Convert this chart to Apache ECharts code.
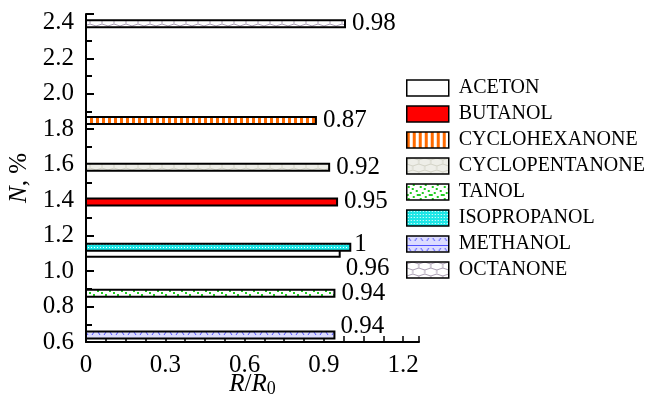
<!DOCTYPE html>
<html lang="en">
<head>
    <meta charset="UTF-8">
    <title>N vs R/R0</title>
    <script src="https://cdn.jsdelivr.net/npm/echarts@6/dist/echarts.min.js"></script>
    <style>
        html, body { margin: 0; padding: 0; background: #fff; }
    </style>
</head>
<body>
<div id="main" style="width:650px;height:406px"></div>
<script>
    // data
    const names = ['ACETON', 'BUTANOL', 'CYCLOHEXANONE', 'CYCLOPENTANONE', 'TANOL', 'ISOPROPANOL', 'METHANOL', 'OCTANONE'];
    const ratio = [0.96, 0.95, 0.87, 0.92, 0.94, 1, 0.94, 0.98];
    const level = [1.10, 1.39, 1.85, 1.585, 0.875, 1.135, 0.64, 2.395];
    const xTicks = [0, 0.3, 0.6, 0.9, 1.2];
    const yTicks = [0.6, 0.8, 1.0, 1.2, 1.4, 1.6, 1.8, 2.0, 2.2, 2.4];

    const FONT = 'Liberation Serif';

    // small canvas tiles used as fill patterns
    function tile(w, h, draw) {
        let c = document.createElement('canvas');
        c.width = w;
        c.height = h;
        draw(c.getContext('2d'));
        return {image: c, repeat: 'repeat'};
    }

    function hex(ctx, col, bg) {
        ctx.fillStyle = bg;
        ctx.fillRect(0, 0, 12, 12);
        ctx.strokeStyle = col;
        ctx.lineWidth = 1;
        ctx.beginPath();
        ctx.moveTo(0, 2); ctx.lineTo(6, 0); ctx.lineTo(12, 2);
        ctx.moveTo(0, 2); ctx.lineTo(0, 6);
        ctx.moveTo(12, 2); ctx.lineTo(12, 6);
        ctx.moveTo(0, 6); ctx.lineTo(6, 8); ctx.lineTo(12, 6);
        ctx.moveTo(6, 8); ctx.lineTo(6, 12);
        ctx.stroke();
    }

    const fills = {
        ACETON: '#ffffff',
        BUTANOL: '#ff0000',
        CYCLOHEXANONE: tile(6, 2, function (ctx) {
            ctx.fillStyle = '#ffffff';
            ctx.fillRect(0, 0, 6, 2);
            ctx.fillStyle = '#ff6a00';
            ctx.fillRect(0, 0, 3, 2);
        }),
        CYCLOPENTANONE: tile(12, 12, function (ctx) {
            hex(ctx, '#d4d4c8', '#eeeee8');
        }),
        TANOL: tile(12, 12, function (ctx) {
            ctx.fillStyle = '#ffffff';
            ctx.fillRect(0, 0, 12, 12);
            ctx.fillStyle = '#22cc22';
            [[1, 2], [6, 0], [9, 6], [3, 8], [10, 10], [5, 4], [0, 10]].forEach(function (p) {
                ctx.fillRect(p[0], p[1], 2, 2);
            });
        }),
        ISOPROPANOL: tile(3, 3, function (ctx) {
            ctx.fillStyle = '#1ee6e6';
            ctx.fillRect(0, 0, 3, 3);
            ctx.fillStyle = '#ffffff';
            ctx.fillRect(1, 1, 1, 1);
        }),
        METHANOL: tile(12, 10, function (ctx) {
            ctx.fillStyle = '#dcdcff';
            ctx.fillRect(0, 0, 12, 10);
            ctx.strokeStyle = '#5050ff';
            ctx.lineWidth = 1;
            ctx.beginPath();
            ctx.moveTo(0, 9.5); ctx.lineTo(12, 9.5);
            ctx.moveTo(2, 2); ctx.lineTo(4, 5);
            ctx.moveTo(8, 5); ctx.lineTo(10, 2);
            ctx.stroke();
        }),
        OCTANONE: tile(12, 12, function (ctx) {
            hex(ctx, '#ab9fb4', '#ffffff');
        })
    };

    // label offsets (pixels) where the number is not simply right of the bar
    const labelShift = {
        ACETON: [-1, 15],
        ISOPROPANOL: [-3, -3],
        METHANOL: [-1, -8]
    };

    let mychart = echarts.init(document.getElementById('main'));

    let series = names.map(function (name, i) {
        let fill = fills[name];
        return {
            name: name,
            type: 'custom',
            itemStyle: {color: fill, borderColor: '#000', borderWidth: 1.5},
            data: [[ratio[i], level[i]]],
            renderItem: function (params, api) {
                let v = api.value(0);
                let start = api.coord([0, api.value(1)]);
                let end = api.coord([v, api.value(1)]);
                let sh = labelShift[name] || [0, 0];
                return {
                    type: 'group',
                    children: [{
                        type: 'rect',
                        shape: {x: start[0], y: start[1] - 3.5, width: end[0] - start[0], height: 7},
                        style: {fill: fill, stroke: '#000', lineWidth: 2}
                    }, {
                        type: 'text',
                        x: end[0] + 7 + sh[0],
                        y: start[1] + sh[1],
                        style: {
                            text: String(v),
                            font: '25px ' + FONT,
                            fill: '#000',
                            align: 'left',
                            verticalAlign: 'middle'
                        }
                    }]
                };
            }
        };
    });

    let option = {
        animation: false,
        grid: {left: 86, right: 231, top: 14, bottom: 64, outerBoundsMode: 'none'},
        legend: {
            orient: 'vertical',
            left: 406,
            top: 78,
            padding: 0,
            itemWidth: 42,
            itemHeight: 16,
            itemGap: 6,
            icon: 'rect',
            itemStyle: {borderColor: '#000', borderWidth: 1.5},
            textStyle: {fontFamily: FONT, fontSize: 20, color: '#000', padding: [0, 0, 0, 5]},
            data: names
        },
        xAxis: {
            type: 'value',
            min: 0,
            max: 1.26,
            interval: 0.3,
            name: '{i|R}/{i|R}{s|0}',
            nameLocation: 'middle',
            nameMoveOverlap: false,
            nameGap: 28,
            nameTextStyle: {
                fontFamily: FONT, fontSize: 25, color: '#000',
                rich: {
                    i: {fontFamily: FONT, fontSize: 25, fontStyle: 'italic', color: '#000'},
                    s: {fontFamily: FONT, fontSize: 18, color: '#000', padding: [10, 0, 0, 0]}
                }
            },
            axisLine: {onZero: false, lineStyle: {color: '#000', width: 2}},
            axisTick: {inside: true, length: 6, lineStyle: {color: '#000', width: 1.5}},
            minorTick: {show: true, splitNumber: 4, length: 6, lineStyle: {color: '#000', width: 1.5}},
            splitLine: {show: false},
            axisLabel: {
                fontFamily: FONT, fontSize: 25, color: '#000', margin: 11,
                formatter: function (v) {
                    return xTicks.indexOf(+v.toFixed(1)) >= 0 ? (v === 0 ? '0' : v.toFixed(1)) : '';
                }
            }
        },
        yAxis: {
            type: 'value',
            min: 0.6,
            max: 2.45,
            interval: 0.2,
            name: '{i|N}, %',
            nameLocation: 'middle',
            nameGap: 50,
            nameTextStyle: {
                fontFamily: FONT, fontSize: 25, color: '#000',
                rich: {
                    i: {fontFamily: FONT, fontSize: 25, fontStyle: 'italic', color: '#000'}
                }
            },
            axisLine: {lineStyle: {color: '#000', width: 2}},
            axisTick: {inside: true, length: 8, lineStyle: {color: '#000', width: 2}},
            minorTick: {show: true, splitNumber: 2, length: 6, lineStyle: {color: '#000', width: 2}},
            splitLine: {show: false},
            axisLabel: {
                fontFamily: FONT, fontSize: 25, color: '#000', margin: 12,
                formatter: function (v) {
                    return yTicks.indexOf(+v.toFixed(1)) >= 0 ? v.toFixed(1) : '';
                }
            }
        },
        series: series
    };
    mychart.setOption(option);
</script>
</body>
</html>
